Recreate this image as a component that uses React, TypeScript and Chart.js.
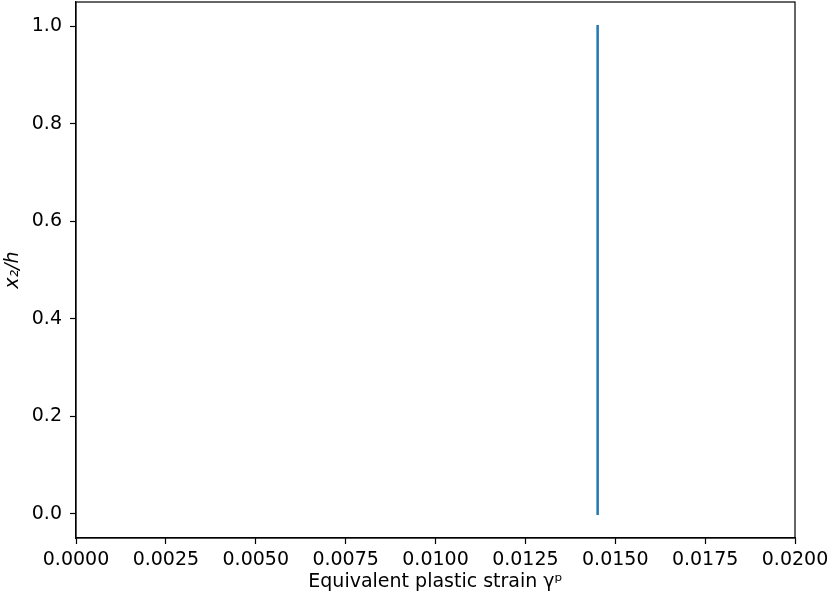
import React, { useEffect, useRef } from "react";
import { Chart, registerables } from "chart.js";

Chart.register(...registerables);

const heights = [0.0, 0.1, 0.2, 0.3, 0.4, 0.5, 0.6, 0.7, 0.8, 0.9, 1.0];
const strains = [0.01451, 0.01451, 0.01451, 0.01451, 0.01451, 0.01451, 0.01451, 0.01451, 0.01451, 0.01451, 0.01451];
const xTicks = [0, 0.0025, 0.005, 0.0075, 0.01, 0.0125, 0.015, 0.0175, 0.02];
const yTicks = [0, 0.2, 0.4, 0.6, 0.8, 1.0];

const FONT = "'DejaVu Sans', sans-serif";

const framePlugin = {
  id: "frame",
  afterDatasetsDraw(chart: any) {
    const { ctx, chartArea } = chart;
    ctx.save();
    ctx.strokeStyle = "#000";
    ctx.lineWidth = 1.2;
    ctx.strokeRect(chartArea.left, chartArea.top, chartArea.right - chartArea.left, chartArea.bottom - chartArea.top);
    ctx.restore();
  },
};

export default function App() {
  const ref = useRef<HTMLCanvasElement | null>(null);
  useEffect(() => {
    if (!ref.current) return;
    const chart = new Chart(ref.current, {
      type: "scatter",
      data: {
        datasets: [
          {
            data: heights.map((h, i) => ({ x: strains[i], y: h })),
            showLine: true,
            borderColor: "#1f77b4",
            borderWidth: 2.5,
            borderCapStyle: "square",
            pointRadius: 0,
            fill: false,
          },
        ],
      },
      plugins: [framePlugin],
      options: {
        animation: false,
        responsive: true,
        maintainAspectRatio: false,
        layout: { padding: { left: 0, right: 35, top: 2, bottom: 0 } },
        plugins: { legend: { display: false }, tooltip: { enabled: false } },
        scales: {
          x: {
            type: "linear",
            min: 0,
            max: 0.02,
            afterBuildTicks: (s: any) => {
              s.ticks = xTicks.map((v) => ({ value: v }));
            },
            afterFit: (s: any) => {
              s.height = 63;
              s.paddingLeft = 0;
              s.paddingRight = 0;
            },
            ticks: {
              color: "#000",
              font: { family: FONT, size: 19 },
              padding: 5,
              maxRotation: 0,
              autoSkip: false,
              callback: (v: any) => Number(v).toFixed(4),
            },
            grid: { display: true, drawOnChartArea: false, drawTicks: true, tickLength: 6, color: "#000", tickWidth: 1.2 },
            border: { display: true, color: "#000", width: 1.2 },
            title: {
              display: true,
              text: "Equivalent plastic strain γᵖ",
              color: "#000",
              font: { family: FONT, size: 19 },
              padding: { top: 0, bottom: 8 },
            },
          },
          y: {
            type: "linear",
            min: -0.05,
            max: 1.05,
            afterBuildTicks: (s: any) => {
              s.ticks = yTicks.map((v) => ({ value: v }));
            },
            afterFit: (s: any) => {
              s.width = 76;
              s.paddingTop = 0;
              s.paddingBottom = 0;
            },
            ticks: {
              color: "#000",
              font: { family: FONT, size: 19 },
              padding: 8,
              autoSkip: false,
              callback: (v: any) => Number(v).toFixed(1),
            },
            grid: { display: true, drawOnChartArea: false, drawTicks: true, tickLength: 6, color: "#000", tickWidth: 1.2 },
            border: { display: true, color: "#000", width: 1.2 },
            title: {
              display: true,
              text: "x₂/h",
              color: "#000",
              font: { family: FONT, size: 19, style: "italic" },
              padding: { top: 2, bottom: 0 },
            },
          },
        },
      },
    });
    return () => chart.destroy();
  }, []);
  return (
    <div style={{ position: "fixed", left: 0, top: 0, width: 830, height: 601, background: "#fff" }}>
      <canvas ref={ref} />
    </div>
  );
}
